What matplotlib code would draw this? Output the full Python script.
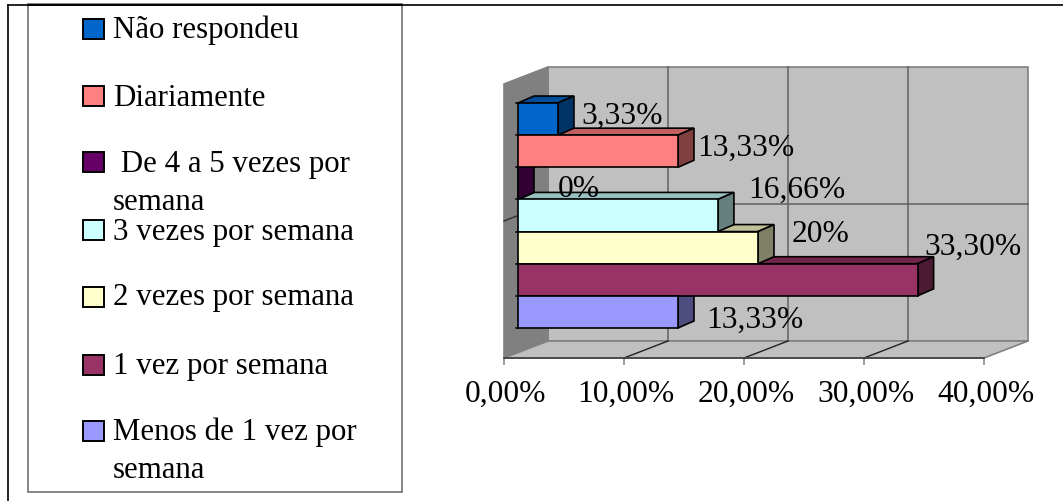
import numpy as np
import matplotlib
matplotlib.use('Agg')
import matplotlib.pyplot as plt
from matplotlib.patches import Polygon, Rectangle
from matplotlib.transforms import ScaledTranslation

plt.rcParams['font.family'] = ['Liberation Serif', 'DejaVu Serif']

# Data (top bar first)
categories = ['Não respondeu', 'Diariamente', ' De 4 a 5 vezes por\nsemana', '3 vezes por semana',
              '2 vezes por semana', '1 vez por semana', 'Menos de 1 vez por\nsemana']
values = [3.33, 13.33, 0, 16.66, 20, 33.30, 13.33]
value_labels = ['3,33%', '13,33%', '0%', '16,66%', '20%', '33,30%', '13,33%']
x_ticks = [0, 10, 20, 30, 40]
x_tick_labels = ['0,00%', '10,00%', '20,00%', '30,00%', '40,00%']

# Colours: front, side, top
front_colors = ['#0066CC', '#FF8080', '#660066', '#CCFFFF', '#FFFFCC', '#993366', '#9999FF']
side_colors = ['#003366', '#804040', '#330033', '#668080', '#808066', '#4D1A33', '#4D4D80']
top_colors = ['#004D99', '#C06060', '#4D004D', '#99C0C0', '#C0C099', '#73264D', '#7373C0']

# Label nudges from the lower end of each bar, in pixels
label_dx = [23, 19, 40, 30, 34, 7, 28]
label_dy = [11, 11, 2, 34, 22, 41, 0]

W, H = 1063, 501
PX_X = 12.0   # pixels per percent
PX_Y = 32.14  # pixels per bar band
BOTTOM = 328  # pixel row of the lowest bar's lower edge
BAR_SHIFT = 14 / PX_X
DEPTH_X, DEPTH_Y = 16 / PX_X, 7 / PX_Y
WALL_X, WALL_Y = 44 / PX_X, 17 / PX_Y
LEGEND_SIZE = 22.2
CHART_SIZE = 22.7

fig = plt.figure(figsize=(W / 100, H / 100), dpi=100)

# Overlay in pixel coordinates for the frames and the legend
over = fig.add_axes([0, 0, 1, 1])
over.set_xlim(0, W)
over.set_ylim(H, 0)
over.axis('off')
over.plot([8, W], [4.5, 4.5], color='black', lw=1.2)
over.plot([8, 8], [4.5, H], color='black', lw=1.2)
over.add_patch(Rectangle((28, 4), 374, 488, fc='white', ec='#707070', lw=1.2))
over.plot([28, 402], [4.5, 4.5], color='black', lw=1.2)

swatch_top = [19, 86, 152, 220, 287, 355, 421]
text_base = [38, 106, 172, 240, 305, 374, 440]
for i, name in enumerate(categories):
    over.add_patch(Rectangle((83, swatch_top[i]), 21, 20, fc=front_colors[i], ec='black', lw=1.4))
    lines = name.split('\n')
    over.text(113, text_base[i], lines[0], fontsize=LEGEND_SIZE, va='baseline', ha='left', color='black')
    if len(lines) > 1:
        over.text(113, text_base[i] + 38, lines[1], fontsize=LEGEND_SIZE, va='baseline', ha='left', color='black')

# Chart axes: front plane of the 3D box
ax = fig.add_axes([504 / W, 1 - 358 / H, 480 / W, 274 / H])
ax.set_xlim(0, 40)
y_low = (BOTTOM - 358) / PX_Y
y_high = (BOTTOM - 84) / PX_Y
y_mid = (y_low + y_high) / 2
ax.set_ylim(y_low, y_high)
ax.patch.set_visible(False)
for s in ['top', 'left', 'right']:
    ax.spines[s].set_visible(False)
ax.spines['bottom'].set_color('#404040')
ax.spines['bottom'].set_linewidth(1.2)
ax.set_yticks([])
ax.set_xticks(x_ticks)
ax.set_xticklabels(x_tick_labels, fontsize=CHART_SIZE)
ax.tick_params(axis='x', length=5, width=1.1, color='#808080', pad=11)
# tick labels sit a little right of their ticks in the original
shift = ScaledTranslation(2 / 100, 0, fig.dpi_scale_trans)
for lbl in ax.get_xticklabels():
    lbl.set_transform(lbl.get_transform() + shift)

grey = '#808080'
# back wall, side wall, floor
ax.add_patch(Polygon([(WALL_X, y_low + WALL_Y), (40 + WALL_X, y_low + WALL_Y),
                      (40 + WALL_X, y_high + WALL_Y), (WALL_X, y_high + WALL_Y)],
                     fc='#C0C0C0', ec=grey, lw=1.2, zorder=1, clip_on=False))
ax.add_patch(Polygon([(0, y_low), (WALL_X, y_low + WALL_Y), (WALL_X, y_high + WALL_Y), (0, y_high)],
                     fc=grey, ec=grey, lw=1.2, zorder=1, clip_on=False))
ax.add_patch(Polygon([(0, y_low), (40, y_low), (40 + WALL_X, y_low + WALL_Y), (WALL_X, y_low + WALL_Y)],
                     fc='#C0C0C0', ec=grey, lw=1.2, zorder=1, clip_on=False))

# gridlines on back wall and floor
for t in x_ticks[1:-1]:
    ax.plot([t + WALL_X, t + WALL_X], [y_low + WALL_Y, y_high + WALL_Y], color='#606060', lw=1.1, zorder=2, clip_on=False)
    ax.plot([t, t + WALL_X], [y_low, y_low + WALL_Y], color='#202020', lw=1, zorder=2, clip_on=False)
ax.plot([WALL_X, 40 + WALL_X], [y_mid + WALL_Y] * 2, color='#606060', lw=1.1, zorder=2, clip_on=False)
ax.plot([0, WALL_X], [y_mid, y_mid + WALL_Y], color='#303030', lw=1, zorder=2, clip_on=False)

# bars: tops first, then sides, then front faces, so the stack overlaps like the 3D box
n = len(values)
for i, v in enumerate(values):
    y0 = n - 1 - i
    y1 = y0 + 1
    end = BAR_SHIFT + v
    ax.add_patch(Polygon([(BAR_SHIFT, y1), (end, y1), (end + DEPTH_X, y1 + DEPTH_Y), (BAR_SHIFT + DEPTH_X, y1 + DEPTH_Y)],
                         fc=top_colors[i], ec='black', lw=1.2, zorder=3, clip_on=False))
    ax.add_patch(Polygon([(end, y0), (end + DEPTH_X, y0 + DEPTH_Y), (end + DEPTH_X, y1 + DEPTH_Y), (end, y1)],
                         fc=side_colors[i], ec='black', lw=1.2, zorder=4, clip_on=False))
    ax.barh(y0 + 0.5, v, height=1, left=BAR_SHIFT, color=front_colors[i], edgecolor='black', lw=1.2, zorder=5)
    # tick to the left of the bar edge
    ax.plot([BAR_SHIFT - 0.2, BAR_SHIFT], [y1, y1], color='black', lw=1.1, zorder=5, clip_on=False)
ax.plot([BAR_SHIFT - 0.2, BAR_SHIFT], [0, 0], color='black', lw=1.1, zorder=5, clip_on=False)

# value labels
for i, v in enumerate(values):
    y0 = n - 1 - i
    ax.annotate(value_labels[i], (BAR_SHIFT + v, y0), xycoords='data',
                xytext=(label_dx[i] * 0.72, label_dy[i] * 0.72), textcoords='offset points',
                fontsize=CHART_SIZE, ha='left', va='baseline', color='black', zorder=20, annotation_clip=False)

fig.savefig('out.png', dpi=100)
